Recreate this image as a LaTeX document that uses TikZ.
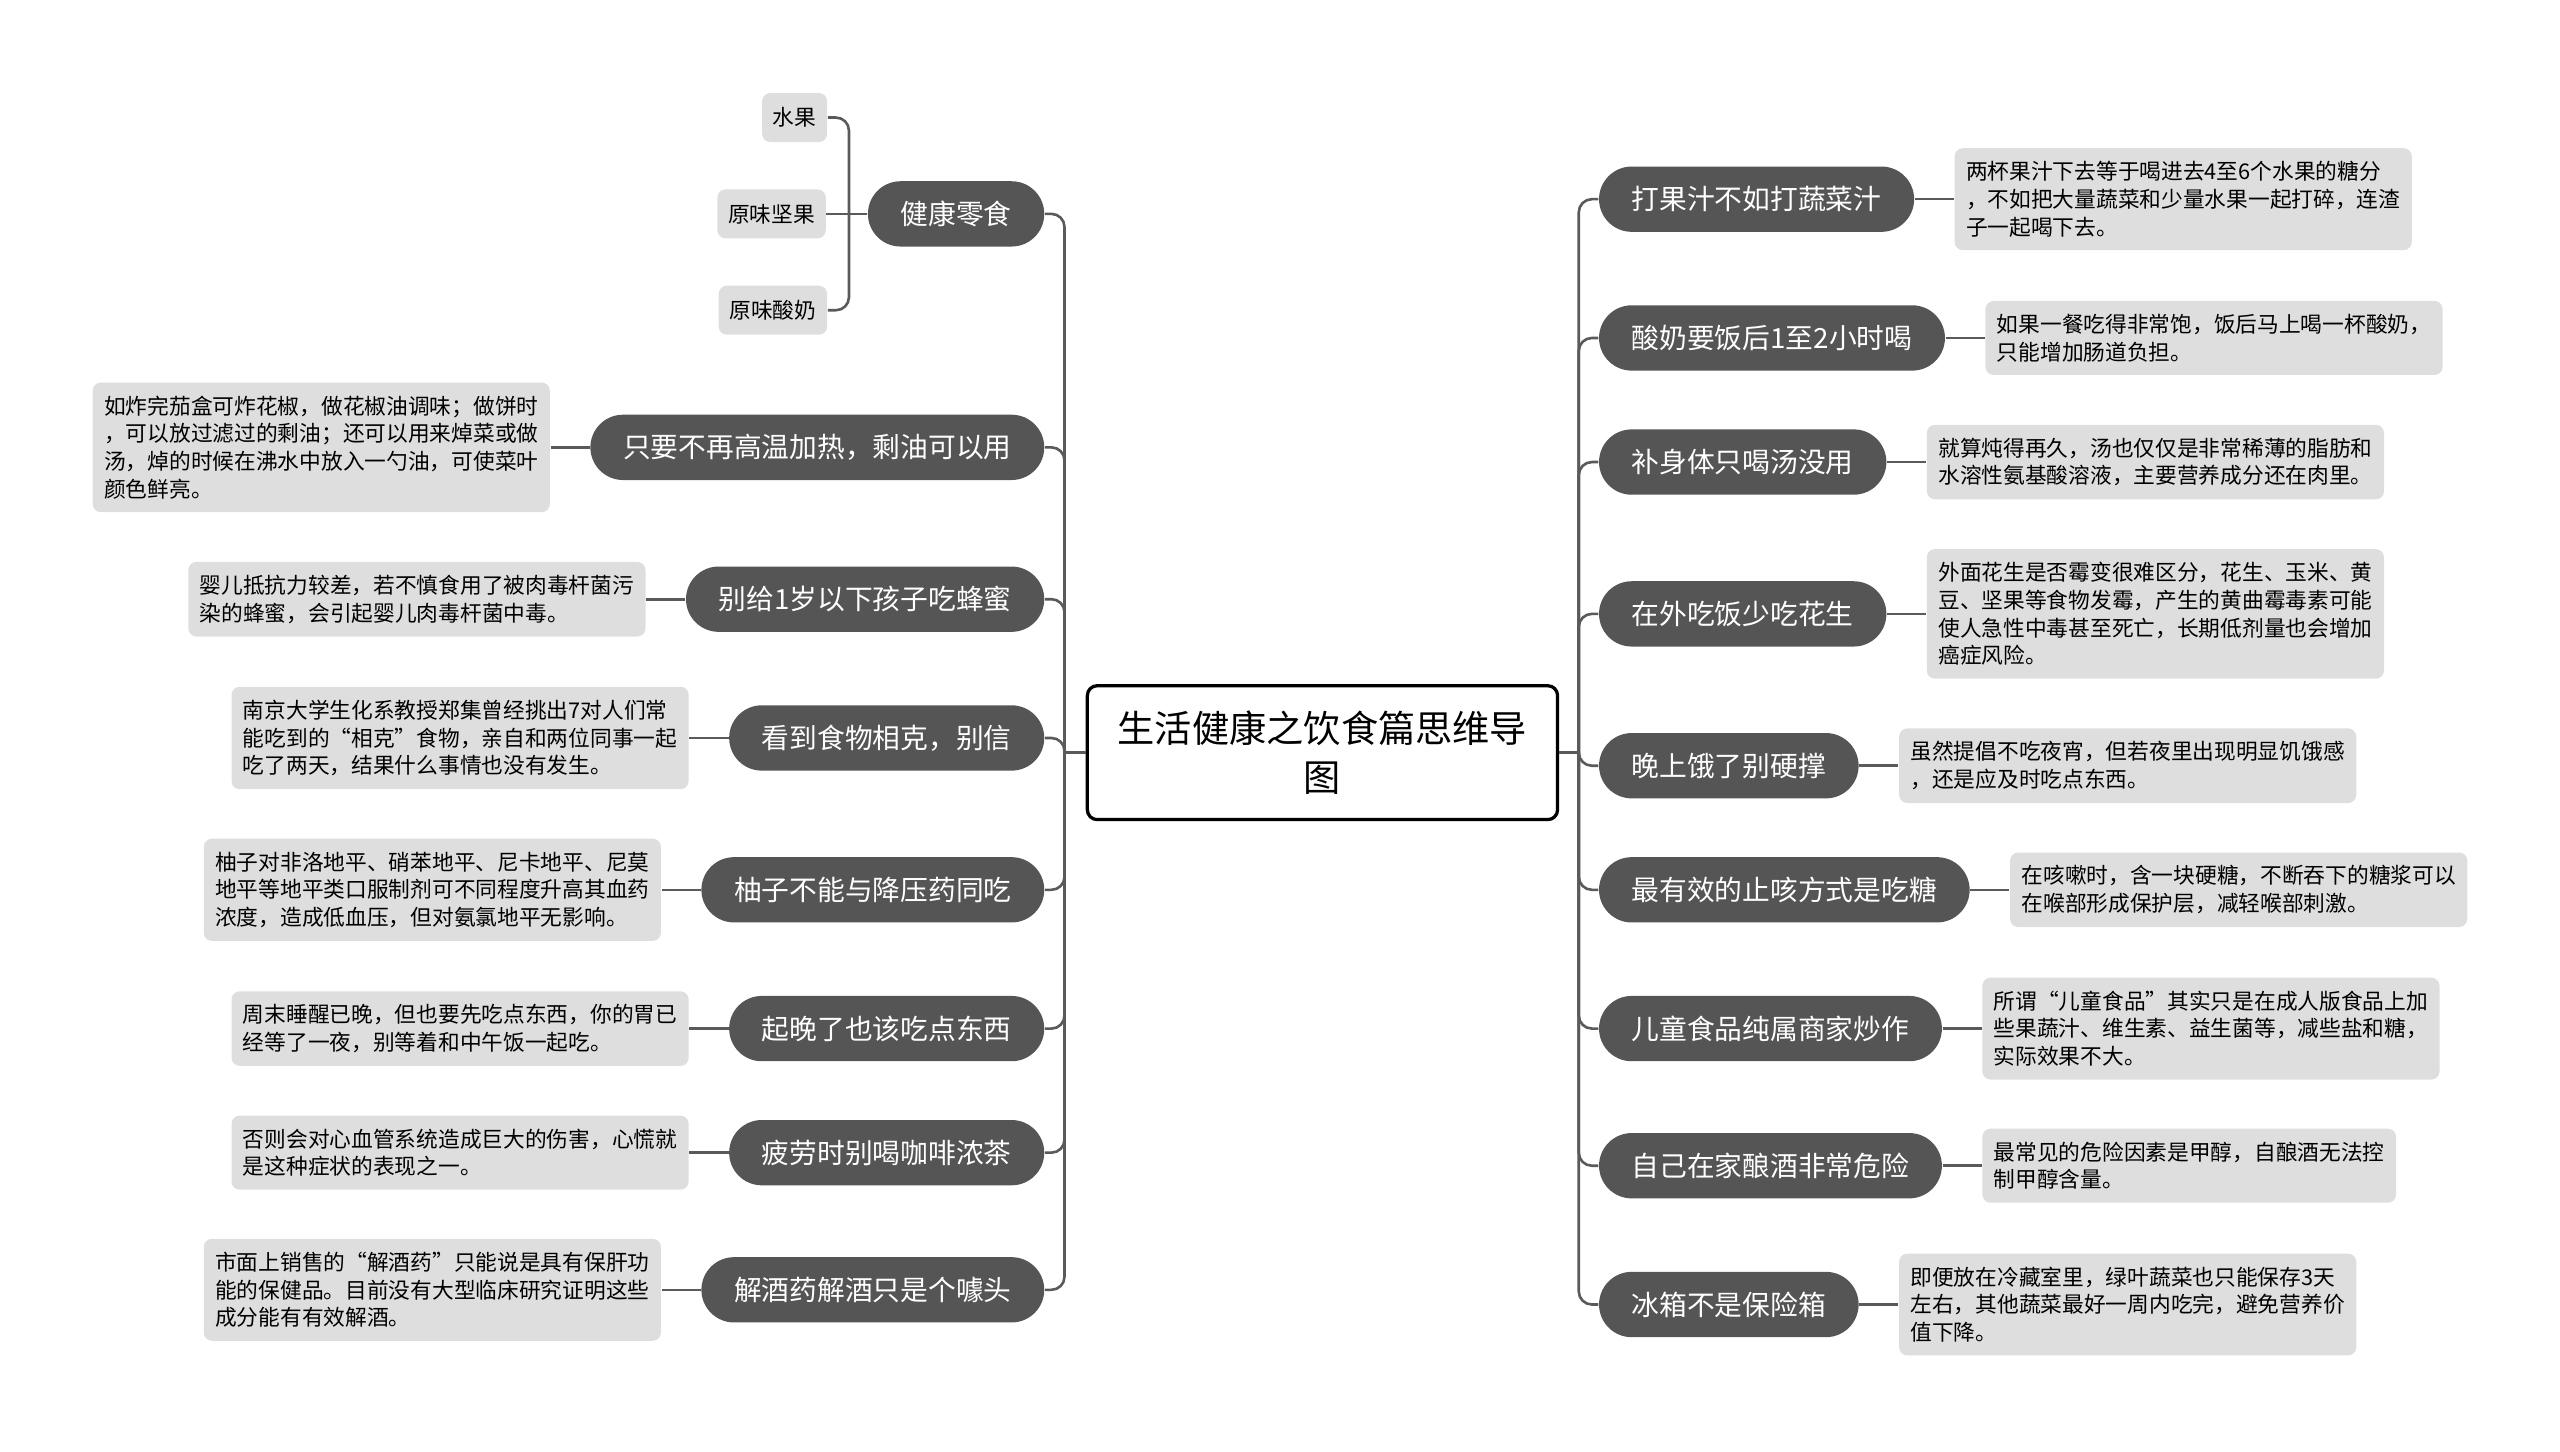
\documentclass[tikz,border=0pt]{standalone}
\usepackage{fontspec}
\setmainfont{Noto Sans CJK SC}
\usetikzlibrary{positioning}
\definecolor{grisosc}{HTML}{555555}
\definecolor{grisclaro}{HTML}{DEDEDE}
\definecolor{linea}{HTML}{5A5A5A}

\begin{document}
\begin{tikzpicture}[x=0.5pt, y=-0.5pt,
    tema/.style={fill=grisosc, text=white, rounded corners=10pt, minimum height=20pt,
                 inner xsep=10pt, font=\fontsize{8.5}{10}\selectfont},
    nota/.style={fill=grisclaro, rounded corners=2.5pt, align=left, inner xsep=3.5pt,
                 inner ysep=4pt, font=\fontsize{6.65}{8.5}\selectfont},
    hoja/.style={nota, minimum height=15pt, inner xsep=3.3pt},
    raiz/.style={draw=black, line width=1pt, fill=white, rounded corners=3pt, align=center,
                 text width=126pt, inner xsep=9pt, minimum height=41pt,
                 font=\fontsize{11.4}{15}\selectfont},
    enlace/.style={draw=linea, line width=0.8pt, rounded corners=4pt}]
    \useasboundingbox (0,0) rectangle (1568,889);
    % raíz
    \node[raiz] (c) at (810,461) {生活健康之饮食篇思维导\\图};
    \coordinate (jl) at (652,461);
    \coordinate (jr) at (967,461);
    % rama izquierda
    \node[tema, anchor=east] (L1) at (640,131) {健康零食};
    \node[tema, anchor=east] (L2) at (640,274) {只要不再高温加热，剩油可以用};
    \node[tema, anchor=east] (L3) at (640,367) {别给1岁以下孩子吃蜂蜜};
    \node[tema, anchor=east] (L4) at (640,452) {看到食物相克，别信};
    \node[tema, anchor=east] (L5) at (640,545) {柚子不能与降压药同吃};
    \node[tema, anchor=east] (L6) at (640,630) {起晚了也该吃点东西};
    \node[tema, anchor=east] (L7) at (640,706) {疲劳时别喝咖啡浓茶};
    \node[tema, anchor=east] (L8) at (640,790) {解酒药解酒只是个噱头};
    \node[hoja, left=12.5pt of L1] (k2) {原味坚果};
    \node[hoja, anchor=east] (k1) at (507,72) {水果};
    \node[hoja, anchor=east] (k3) at (507,190) {原味酸奶};
    \coordinate (sj) at (520,131);
    \node[nota, left=12pt of L2] (D2) {如炸完茄盒可炸花椒，做花椒油调味；做饼时\\，可以放过滤过的剩油；还可以用来焯菜或做\\汤，焯的时候在沸水中放入一勺油，可使菜叶\\颜色鲜亮。};
    \node[nota, left=12pt of L3] (D3) {婴儿抵抗力较差，若不慎食用了被肉毒杆菌污\\染的蜂蜜，会引起婴儿肉毒杆菌中毒。};
    \node[nota, left=12pt of L4] (D4) {南京大学生化系教授郑集曾经挑出7对人们常\\能吃到的“相克”食物，亲自和两位同事一起\\吃了两天，结果什么事情也没有发生。};
    \node[nota, left=12pt of L5] (D5) {柚子对非洛地平、硝苯地平、尼卡地平、尼莫\\地平等地平类口服制剂可不同程度升高其血药\\浓度，造成低血压，但对氨氯地平无影响。};
    \node[nota, left=12pt of L6] (D6) {周末睡醒已晚，但也要先吃点东西，你的胃已\\经等了一夜，别等着和中午饭一起吃。};
    \node[nota, left=12pt of L7] (D7) {否则会对心血管系统造成巨大的伤害，心慌就\\是这种症状的表现之一。};
    \node[nota, left=12pt of L8] (D8) {市面上销售的“解酒药”只能说是具有保肝功\\能的保健品。目前没有大型临床研究证明这些\\成分能有有效解酒。};
    % rama derecha
    \node[tema, anchor=west] (R1) at (979,122) {打果汁不如打蔬菜汁};
    \node[tema, anchor=west] (R2) at (979,207) {酸奶要饭后1至2小时喝};
    \node[tema, anchor=west] (R3) at (979,283) {补身体只喝汤没用};
    \node[tema, anchor=west] (R4) at (979,376) {在外吃饭少吃花生};
    \node[tema, anchor=west] (R5) at (979,469) {晚上饿了别硬撑};
    \node[tema, anchor=west] (R6) at (979,545) {最有效的止咳方式是吃糖};
    \node[tema, anchor=west] (R7) at (979,630) {儿童食品纯属商家炒作};
    \node[tema, anchor=west] (R8) at (979,714) {自己在家酿酒非常危险};
    \node[tema, anchor=west] (R9) at (979,799) {冰箱不是保险箱};
    \node[nota, right=12pt of R1] (E1) {两杯果汁下去等于喝进去4至6个水果的糖分\\，不如把大量蔬菜和少量水果一起打碎，连渣\\子一起喝下去。};
    \node[nota, right=12pt of R2] (E2) {如果一餐吃得非常饱，饭后马上喝一杯酸奶，\\只能增加肠道负担。};
    \node[nota, right=12pt of R3] (E3) {就算炖得再久，汤也仅仅是非常稀薄的脂肪和\\水溶性氨基酸溶液，主要营养成分还在肉里。};
    \node[nota, right=12pt of R4] (E4) {外面花生是否霉变很难区分，花生、玉米、黄\\豆、坚果等食物发霉，产生的黄曲霉毒素可能\\使人急性中毒甚至死亡，长期低剂量也会增加\\癌症风险。};
    \node[nota, right=12pt of R5] (E5) {虽然提倡不吃夜宵，但若夜里出现明显饥饿感\\，还是应及时吃点东西。};
    \node[nota, right=12pt of R6] (E6) {在咳嗽时，含一块硬糖，不断吞下的糖浆可以\\在喉部形成保护层，减轻喉部刺激。};
    \node[nota, right=12pt of R7] (E7) {所谓“儿童食品”其实只是在成人版食品上加\\些果蔬汁、维生素、益生菌等，减些盐和糖，\\实际效果不大。};
    \node[nota, right=12pt of R8] (E8) {最常见的危险因素是甲醇，自酿酒无法控\\制甲醇含量。};
    \node[nota, right=12pt of R9] (E9) {即便放在冷藏室里，绿叶蔬菜也只能保存3天\\左右，其他蔬菜最好一周内吃完，避免营养价\\值下降。};
    % conectores
    \draw[enlace] (c.west) -- (jl);
    \draw[enlace] (c.east) -- (jr);
    \foreach \i in {1,...,8} \draw[enlace] (jl) |- (L\i.east);
    \foreach \i in {2,...,8} \draw[enlace] (L\i) -- (D\i);
    \foreach \i in {1,...,9} {
      \draw[enlace] (jr) |- (R\i.west);
      \draw[enlace] (R\i) -- (E\i);
    }
    \draw[enlace] (L1) -- (k2);
    \draw[enlace] (sj) |- (k1.east);
    \draw[enlace] (sj) |- (k3.east);
\end{tikzpicture}
\end{document}
